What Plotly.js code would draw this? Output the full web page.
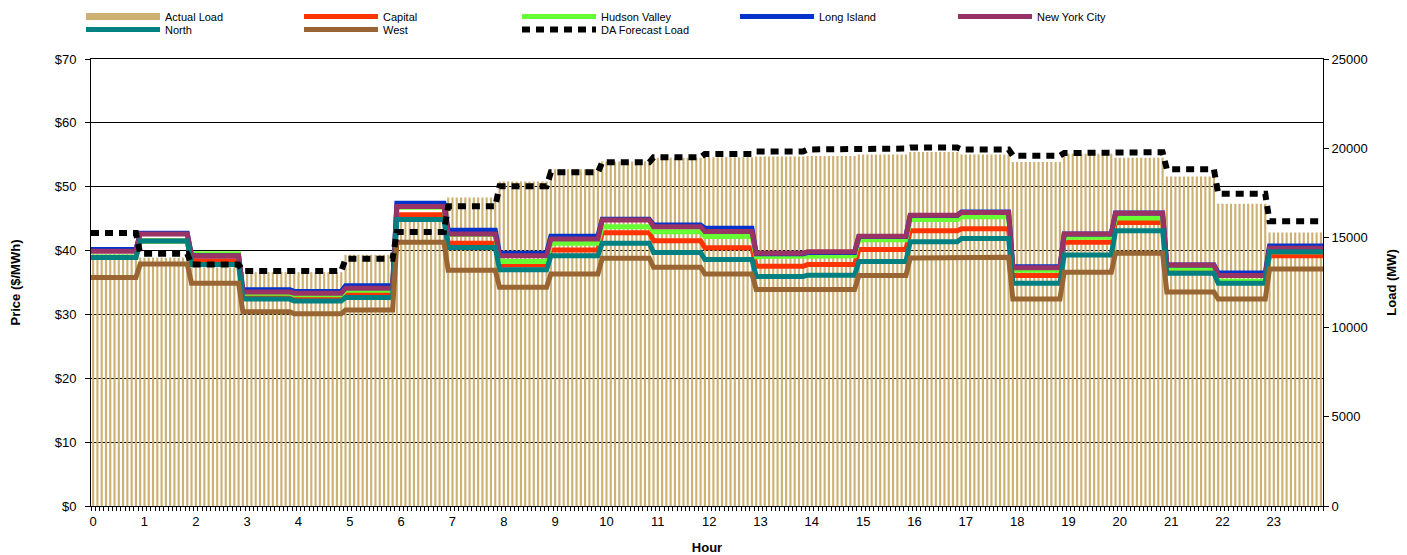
<!DOCTYPE html>
<html><head><meta charset="utf-8">
<script src="https://cdn.plot.ly/plotly-3.0.1.min.js"></script>
<style>html,body{margin:0;padding:0;background:#fff}#chart{width:1407px;height:555px}</style>
</head><body><div id="chart"></div>
<script>
// ---- data (hourly values) ----
const hourLabels = ['0','1','2','3','4','5','6','7','8','9','10','11','12','13','14','15','16','17','18','19','20','21','22','23'];
const actualLoad     = [14100,13890,13350,13080,13080,14050,16200,17250,18150,18830,19270,19480,19510,19550,19580,19665,19795,19665,19240,19700,19480,18430,16900,15290];
const daForecastLoad = [15270,14110,13500,13140,13140,13830,15320,16760,17890,18660,19220,19500,19680,19830,19940,19990,20045,19945,19590,19740,19790,18830,17470,15930];
const capital      = [38.9,41.5,38.4,33.05,32.8,33.4,45.6,41.15,37.75,40.1,42.8,41.55,40.45,37.55,37.8,40.15,43.1,43.4,36.1,41.3,44.4,36.9,35.1,39.2];
const hudsonValley = [39.0,41.5,39.5,33.3,33.1,33.8,46.8,42.5,38.3,41.15,43.75,42.95,42.2,39.05,39.2,41.7,44.85,45.3,36.9,42.1,45.1,37.25,35.2,39.8];
const longIsland   = [40.15,42.7,39.2,33.85,33.6,34.5,47.4,43.2,39.6,42.25,44.9,44.0,43.5,39.5,39.7,42.2,45.5,46.05,37.45,42.6,45.9,37.75,36.5,40.7];
const newYorkCity  = [39.9,42.6,39.2,33.5,33.3,34.1,46.9,42.6,39.2,41.8,44.8,43.75,43.0,39.6,39.8,42.25,45.55,45.95,37.3,42.6,45.85,37.75,36.1,40.36];
const north        = [38.9,41.5,37.8,32.4,32.1,32.65,44.85,40.5,37.0,39.2,41.15,39.7,38.6,35.95,36.15,38.3,41.4,41.9,34.9,39.3,43.1,36.45,34.9,39.8];
const west         = [35.8,37.9,34.9,30.4,30.1,30.7,41.3,36.9,34.25,36.35,38.8,37.4,36.35,33.9,33.9,36.1,38.85,38.95,32.4,36.6,39.6,33.5,32.4,37.1];
const intervalsPerHour = 12;

// ---- build ----
const nH = hourLabels.length;
const nI = nH * intervalsPerHour;
function hourOf(k){ return Math.min(nH-1, Math.floor((k+1)/intervalsPerHour)); }
function stepLine(vals){
  const xs=[], ys=[];
  for(let h=0; h<nH; h++){
    xs.push(h===0 ? -0.5 : h*intervalsPerHour-1); ys.push(vals[h]);
    xs.push(h===nH-1 ? nI-0.5 : h*intervalsPerHour+intervalsPerHour-2); ys.push(vals[h]);
  }
  return {xs, ys};
}
const barX=[], barY=[];
for(let k=0;k<nI;k++){ barX.push(k); barY.push(actualLoad[hourOf(k)]); }

const FONT = 'Liberation Sans, Arial, sans-serif';
const loadColor = '#CCB173';
const series = [
  ['Capital', capital, '#FF3300', 'legend'],
  ['Hudson Valley', hudsonValley, '#66FF33', 'legend'],
  ['Long Island', longIsland, '#0033CC', 'legend'],
  ['New York City', newYorkCity, '#993366', 'legend'],
  ['North', north, '#008080', 'legend2'],
  ['West', west, '#996633', 'legend2']
];
const traces = [];
traces.push({type:'scatter', mode:'lines', name:'Actual Load', x:[null], y:[null], xaxis:'x', yaxis:'y',
  line:{color:loadColor, width:7}, legend:'legend', hoverinfo:'skip'});
traces.push({type:'bar', name:'Actual Load', x:barX, y:barY, xaxis:'x', yaxis:'y',
  marker:{color:loadColor, line:{width:0}}, showlegend:false});
series.forEach(s=>{
  const st = stepLine(s[1]);
  traces.push({type:'scatter', mode:'lines', name:s[0], x:st.xs, y:st.ys, xaxis:'x', yaxis:'y2',
    line:{color:s[2], width:5}, legend:s[3]});
});
const da = stepLine(daForecastLoad);
traces.push({type:'scatter', mode:'lines', name:'DA Forecast Load', x:da.xs, y:da.ys, xaxis:'x', yaxis:'y3',
  line:{color:'#000', width:6, dash:'8px,6px'}, legend:'legend2'});

const tickvals = hourLabels.map((_,h)=>h*intervalsPerHour);
const legendBase = {orientation:'h', xref:'container', yref:'container', xanchor:'left', yanchor:'top',
  entrywidth:129, entrywidthmode:'pixels', itemwidth:74, bgcolor:'rgba(0,0,0,0)',
  font:{family:FONT, size:11, color:'#000'}, tracegroupgap:0};

const layout = {
  width:1407, height:555, autosize:false,
  margin:{l:91, r:84, t:59, b:49, pad:0},
  paper_bgcolor:'#fff', plot_bgcolor:'#fff',
  font:{family:FONT, size:13, color:'#000'},
  bargap:0.5,
  showlegend:true,
  legend: Object.assign({}, legendBase, {x:81/1407, y:1-2/555}),
  legend2: Object.assign({}, legendBase, {x:81/1407, y:1-15/555}),
  xaxis:{range:[-0.5, nI-0.5], tickmode:'array', tickvals:tickvals, ticktext:hourLabels,
    ticks:'', showline:true, linecolor:'#000', linewidth:1, mirror:true, showgrid:false, zeroline:false,
    ticklabelstandoff:3,
    minor:{ticks:'outside', tickmode:'linear', tick0:-0.5, dtick:1, ticklen:4, tickcolor:'#000', tickwidth:1, showgrid:false},
    tickfont:{family:FONT, size:13, color:'#000'},
    title:{text:'Hour', font:{family:FONT, size:13, color:'#000', weight:'bold'}, standoff:15}},
  yaxis:{side:'right', range:[0,25000], dtick:5000, tickformat:'d', showgrid:false, zeroline:false,
    showline:true, linecolor:'#000', linewidth:1, ticks:'outside', ticklen:5, tickcolor:'#000',
    tickfont:{family:FONT, size:13, color:'#000'},
    title:{text:'Load (MW)', font:{family:FONT, size:13, color:'#000', weight:'bold'}, standoff:20}},
  yaxis2:{overlaying:'y', side:'left', range:[0,70], dtick:10, tickprefix:'$', showgrid:true,
    gridcolor:'#000', gridwidth:1, zeroline:false, showline:true, linecolor:'#000', linewidth:1,
    ticks:'outside', ticklen:5, tickcolor:'#000', ticklabelstandoff:6,
    tickfont:{family:FONT, size:13, color:'#000'},
    title:{text:'Price ($/MWh)', font:{family:FONT, size:13, color:'#000', weight:'bold'}, standoff:31}},
  yaxis3:{overlaying:'y', side:'right', range:[0,25000], visible:false, showgrid:false, zeroline:false}
};
Plotly.newPlot('chart', traces, layout, {displayModeBar:false, staticPlot:true});
</script></body></html>
